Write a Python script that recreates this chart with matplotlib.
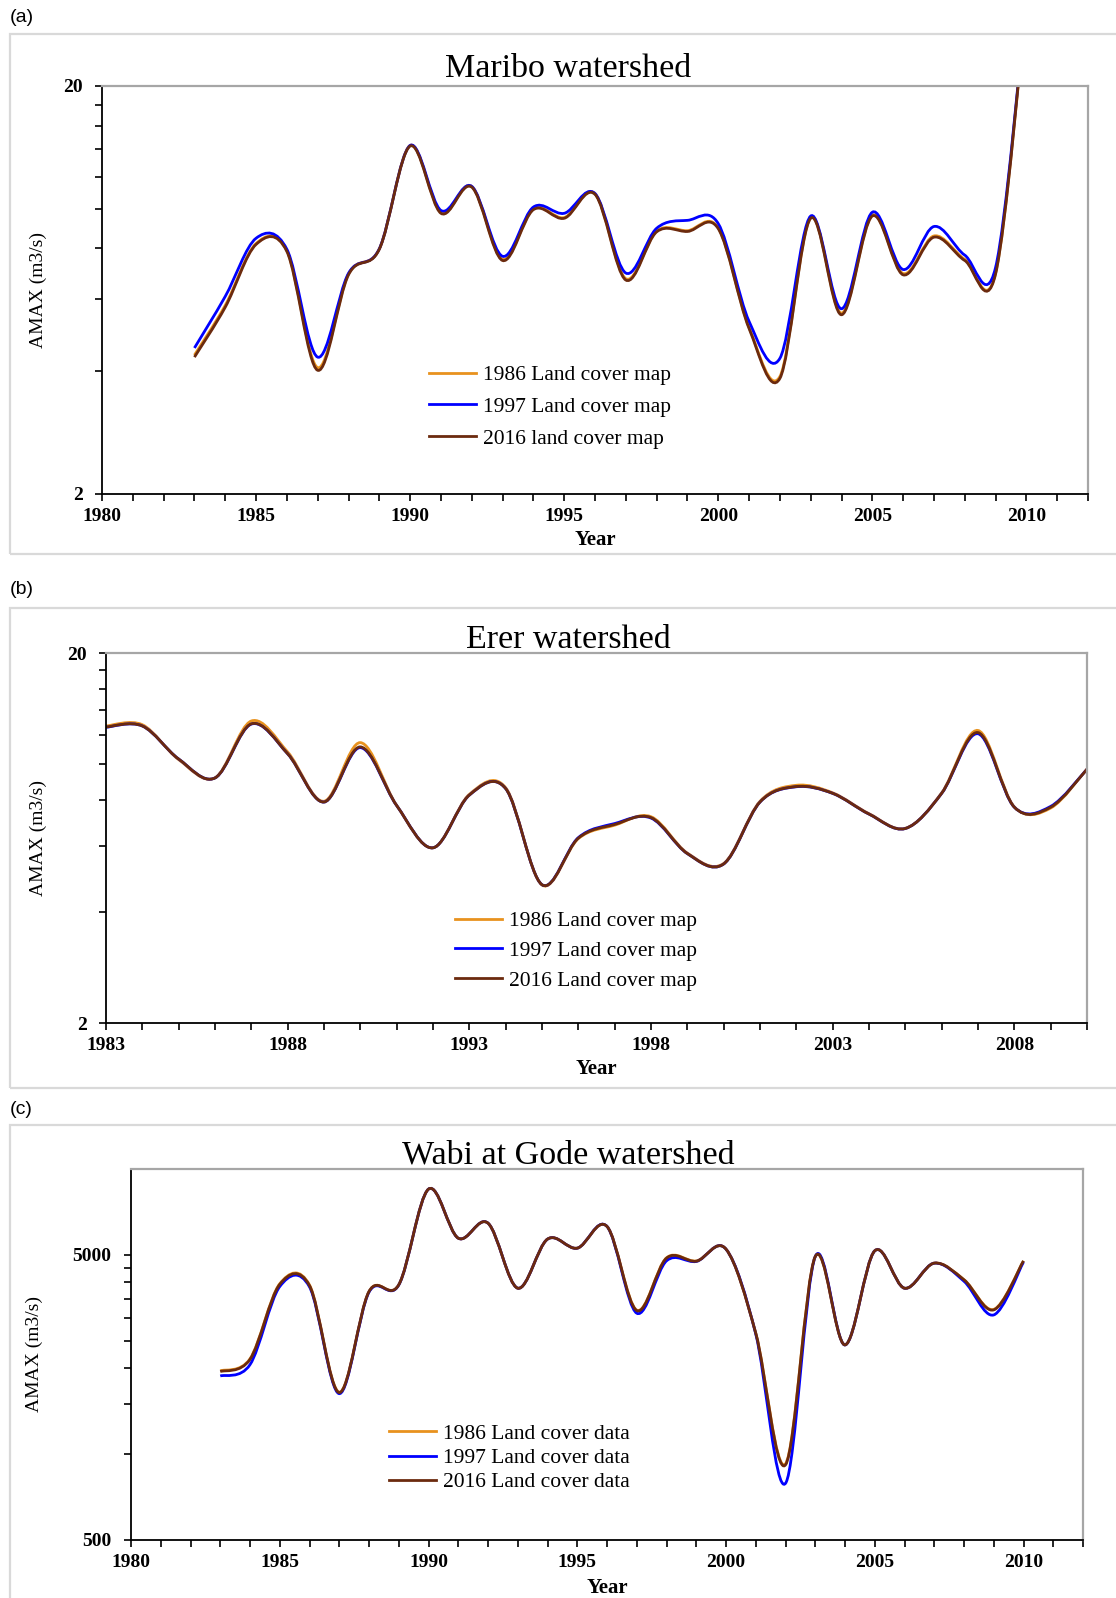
import numpy as np
import matplotlib
matplotlib.use("Agg")
import matplotlib.pyplot as plt
from matplotlib.path import Path
from matplotlib.patches import PathPatch, Rectangle
from matplotlib.lines import Line2D
from matplotlib.ticker import FixedLocator, NullFormatter

plt.rcParams['font.family'] = ['Liberation Serif', 'DejaVu Serif']

# ---- data (AMAX, m3/s) ----
years_a = list(range(1983, 2011))
maribo_1986 = [4.38, 5.80, 8.22, 7.90, 4.08, 6.92, 7.98, 14.3, 9.80, 11.35, 7.52, 10.0, 9.52,
               10.9, 6.74, 8.82, 8.84, 8.98, 5.12, 3.88, 9.52, 5.55, 9.65, 6.94, 8.58, 7.52, 6.95, 32.0]
maribo_1997 = [4.56, 6.10, 8.47, 7.96, 4.33, 6.95, 7.98, 14.3, 9.91, 11.35, 7.65, 10.1, 9.75,
               10.9, 6.96, 8.96, 9.37, 9.20, 5.30, 4.30, 9.60, 5.69, 9.81, 7.10, 9.05, 7.70, 7.18, 32.0]
maribo_2016 = [4.33, 5.74, 8.18, 7.86, 4.02, 6.89, 7.96, 14.25, 9.75, 11.3, 7.47, 9.95, 9.48,
               10.85, 6.69, 8.78, 8.80, 8.94, 5.09, 3.84, 9.48, 5.50, 9.60, 6.89, 8.52, 7.47, 6.92, 32.0]

years_b = list(range(1983, 2011))
erer_1986 = [12.7, 12.8, 10.3, 9.2, 13.1, 10.8, 7.95, 11.45, 7.75, 5.95, 8.3, 8.65, 4.72,
             6.30, 6.85, 7.22, 5.76, 5.40, 7.95, 8.78, 8.38, 7.36, 6.72, 8.38, 12.35, 7.68, 7.62, 9.72]
erer_1997 = [12.6, 12.7, 10.34, 9.19, 12.85, 10.68, 7.91, 11.1, 7.74, 5.95, 8.26, 8.6, 4.73,
             6.34, 6.92, 7.16, 5.74, 5.38, 7.91, 8.70, 8.35, 7.34, 6.71, 8.35, 12.1, 7.66, 7.70, 9.70]
erer_2016 = [12.62, 12.7, 10.34, 9.19, 12.87, 10.68, 7.91, 11.15, 7.74, 5.95, 8.26, 8.6, 4.73,
             6.32, 6.88, 7.18, 5.74, 5.38, 7.91, 8.71, 8.35, 7.34, 6.71, 8.35, 12.19, 7.66, 7.66, 9.70]

years_c = list(range(1983, 2011))
wabi_1986 = [1960, 2160, 3960, 3920, 1650, 3720, 3930, 8500, 5720, 6460, 3820, 5680, 5280,
             6290, 3200, 4880, 4760, 5240, 2660, 925, 4930, 2420, 5170, 3820, 4680, 4090, 3220, 4760]
wabi_1997 = [1880, 2060, 3870, 3860, 1630, 3700, 3920, 8500, 5720, 6460, 3820, 5675, 5277,
             6289, 3121, 4763, 4740, 5235, 2640, 790, 4931, 2416, 5164, 3819, 4675, 4040, 3078, 4720]
wabi_2016 = [1948, 2150, 3940, 3900, 1644, 3717, 3924, 8500, 5721, 6457, 3819, 5675, 5277,
             6289, 3188, 4869, 4750, 5235, 2655, 917, 4931, 2416, 5164, 3819, 4675, 4087, 3206, 4763]

colors = ['#E8921E', '#0000FF', '#6B2A0E']

W, H = 1116, 1598
fig = plt.figure(figsize=(W / 100, H / 100), dpi=100)
fig.patch.set_facecolor('white')


def smooth_path(x, y):
    # Excel-like smoothed line: cubic Bezier through the points, in (x, log y) space
    pts = np.column_stack([np.asarray(x, float), np.log10(np.asarray(y, float))])
    ext = np.vstack([pts[0], pts, pts[-1]])
    verts = [pts[0]]
    codes = [Path.MOVETO]
    for i in range(len(pts) - 1):
        p0, p1, p2, p3 = ext[i], ext[i + 1], ext[i + 2], ext[i + 3]
        verts += [p1 + (p2 - p0) / 6, p2 - (p3 - p1) / 6, p2]
        codes += [Path.CURVE4] * 3
    verts = np.array(verts)
    verts[:, 1] = 10 ** verts[:, 1]
    return Path(verts, codes)


def panel(box_top, box_bottom, tag, tag_y, ax_px, title, title_y, years, series, labels,
          ylim, yminor, xlim, xmajor, ylab_x, xlab_y, leg_xy, leg_spacing):
    # light grey frame around the panel
    fig.patches.append(Rectangle((10 / W, 1 - box_bottom / H), 1.2, (box_bottom - box_top) / H,
                                 transform=fig.transFigure, fill=False, ec='#D9D9D9', lw=1.6))
    fig.text(10 / W, 1 - tag_y / H, tag, family='Liberation Sans', fontsize=14, va='center', ha='left')
    fig.text(568 / W, 1 - title_y / H, title, fontsize=24.5, ha='center', va='baseline')

    l, t, r, b = ax_px
    ax = fig.add_axes([l / W, 1 - b / H, (r - l) / W, (b - t) / H])
    ax.set_yscale('log')
    ax.set_ylim(*ylim)
    ax.set_xlim(*xlim)
    for s, c in zip(series, colors):
        ax.add_patch(PathPatch(smooth_path(years, s), fill=False, ec=c, lw=2.0))

    ax.yaxis.set_major_locator(FixedLocator([ylim[0], ylim[1] if ylim[1] < 100 else 5000]))
    ax.yaxis.set_major_formatter(matplotlib.ticker.FuncFormatter(lambda v, p: '%d' % v))
    ax.yaxis.set_minor_locator(FixedLocator(yminor))
    ax.yaxis.set_minor_formatter(NullFormatter())
    ax.set_xticks(xmajor)
    ax.set_xticks(np.arange(xlim[0], xlim[1] + 1, 1), minor=True)
    ax.tick_params(which='both', direction='out', length=5, width=1.2, color='black')
    ax.tick_params(axis='x', which='major', labelsize=14, pad=5)
    ax.tick_params(axis='y', which='major', labelsize=14, pad=9)
    for lbl in ax.get_xticklabels() + ax.get_yticklabels():
        lbl.set_fontweight('bold')
    for side in ['left', 'bottom']:
        ax.spines[side].set_color('black')
        ax.spines[side].set_linewidth(1.3)
    for side in ['top', 'right']:
        ax.spines[side].set_color('#A6A6A6')
        ax.spines[side].set_linewidth(1.6)

    ax.set_ylabel('AMAX (m3/s)', fontsize=14, va='center')
    ax.yaxis.set_label_coords((ylab_x - l) / (r - l), 0.5)
    ax.set_xlabel('Year', fontsize=15, fontweight='bold', va='center')
    ax.xaxis.set_label_coords(0.5, -(xlab_y - b) / (b - t))

    handles = [Line2D([], [], color=c, lw=2.0) for c in colors]
    ax.legend(handles, labels, loc='center left', frameon=False, fontsize=15.5,
              bbox_to_anchor=(leg_xy[0] / W, 1 - leg_xy[1] / H), bbox_transform=fig.transFigure,
              borderpad=0, handlelength=2.2, handletextpad=0.3, labelspacing=leg_spacing)
    return ax


panel(34, 554, '(a)', 18, (102, 86, 1088, 494), 'Maribo watershed', 77,
      years_a, [maribo_1986, maribo_1997, maribo_2016],
      ['1986 Land cover map', '1997 Land cover map', '2016 land cover map'],
      (2, 20), [4, 6, 8, 10, 12, 14, 16, 18], (1980, 2012), range(1980, 2011, 5),
      38, 540, (418, 407), 0.55)

panel(608, 1088, '(b)', 590, (106, 653, 1087, 1023), 'Erer watershed', 648,
      years_b, [erer_1986, erer_1997, erer_2016],
      ['1986 Land cover map', '1997 Land cover map', '2016 Land cover map'],
      (2, 20), [4, 6, 8, 10, 12, 14, 16, 18], (1983, 2010), range(1983, 2010, 5),
      38, 1069, (444, 951), 0.46)

panel(1125, 1650, '(c)', 1110, (131, 1169, 1083, 1540), 'Wabi at Gode watershed', 1164,
      years_c, [wabi_1986, wabi_1997, wabi_2016],
      ['1986 Land cover data', '1997 Land cover data', '2016 Land cover data'],
      (500, 10000), [1000, 1500, 2000, 2500, 3000, 3500, 4000, 4500], (1980, 2012), range(1980, 2011, 5),
      34, 1588, (378, 1458), 0.2)

fig.savefig('out.png', dpi=100, facecolor='white')
